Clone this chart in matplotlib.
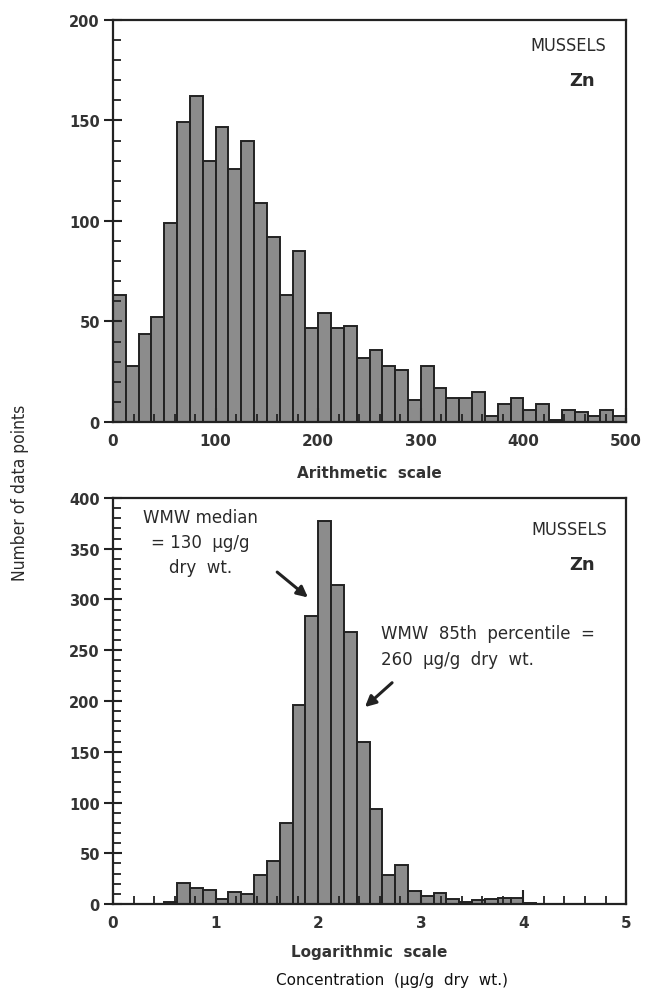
import numpy as np
import matplotlib.pyplot as plt
from matplotlib.ticker import MultipleLocator

# top panel: arithmetic scale, 12.5 ug/g bins from 0 to 500
arith_width = 12.5
arith_counts = [63, 28, 44, 52, 99, 149, 162, 130, 147, 126,
                140, 109, 92, 63, 85, 47, 54, 47, 48, 32,
                36, 28, 26, 11, 28, 17, 12, 12, 15, 3,
                9, 12, 6, 9, 1, 6, 5, 3, 6, 3]

# bottom panel: log10 scale, 0.125 bins from 0 to 5
log_width = 0.125
log_counts = [0, 0, 0, 0, 2, 21, 16, 14, 5, 12,
              10, 29, 42, 80, 196, 284, 377, 314, 268, 160,
              94, 29, 38, 13, 8, 11, 5, 2, 4, 5,
              6, 6, 1, 0, 0, 0, 0, 0, 0, 0]

species = "MUSSELS"
metal = "Zn"
median_text = "WMW median\n= 130  µg/g\ndry  wt."
p85_text = "WMW  85th  percentile  =\n260  µg/g  dry  wt."

plt.rcParams['font.family'] = ['DejaVu Sans']
bar_face = '#8c8c8c'
ink = '#222222'
txt = '#2a2a2a'

fig = plt.figure(figsize=(6.48, 10.04), dpi=100)
ax1 = fig.add_axes([0.1744, 0.5787, 0.7917, 0.4004])
ax2 = fig.add_axes([0.1744, 0.0986, 0.7917, 0.4044])


def style_axes(ax):
    for s in ax.spines.values():
        s.set_linewidth(1.6)
        s.set_color(ink)
    ax.tick_params(axis='y', which='major', direction='inout', length=13,
                   width=1.5, colors=ink, labelsize=10.5, pad=3)
    ax.tick_params(axis='y', which='minor', direction='in', length=6,
                   width=1.3, colors=ink)
    ax.tick_params(axis='x', which='major', direction='in', length=10,
                   width=1.5, colors=ink, labelsize=11, pad=8)
    ax.tick_params(axis='x', which='minor', direction='in', length=6,
                   width=1.3, colors=ink)
    for lab in ax.get_xticklabels() + ax.get_yticklabels():
        lab.set_fontweight('bold')
        lab.set_color('#333333')


# --- top histogram
edges1 = np.arange(len(arith_counts)) * arith_width
ax1.bar(edges1, arith_counts, width=arith_width, align='edge',
        color=bar_face, edgecolor=ink, linewidth=1.4)
ax1.set_xlim(0, 500)
ax1.set_ylim(0, 200)
ax1.xaxis.set_major_locator(MultipleLocator(100))
ax1.xaxis.set_minor_locator(MultipleLocator(20))
ax1.yaxis.set_major_locator(MultipleLocator(50))
ax1.yaxis.set_minor_locator(MultipleLocator(10))
style_axes(ax1)
ax1.set_xlabel("Arithmetic  scale", fontsize=11, color='#333333',
               fontweight='bold', labelpad=12)
ax1.text(0.962, 0.937, species, transform=ax1.transAxes, ha='right',
         va='center', fontsize=13, fontstretch='condensed', color=txt)
ax1.text(0.94, 0.85, metal, transform=ax1.transAxes, ha='right',
         va='center', fontsize=13, fontweight='bold', color=txt)

# --- bottom histogram
edges2 = np.arange(len(log_counts)) * log_width
ax2.bar(edges2, log_counts, width=log_width, align='edge',
        color=bar_face, edgecolor=ink, linewidth=1.4)
ax2.set_xlim(0, 5)
ax2.set_ylim(0, 400)
ax2.xaxis.set_major_locator(MultipleLocator(1))
ax2.xaxis.set_minor_locator(MultipleLocator(0.2))
ax2.yaxis.set_major_locator(MultipleLocator(50))
ax2.yaxis.set_minor_locator(MultipleLocator(10))
style_axes(ax2)
ax2.set_xlabel("Logarithmic  scale", fontsize=11, color='#333333',
               fontweight='bold', labelpad=10)
ax2.text(0.964, 0.923, species, transform=ax2.transAxes, ha='right',
         va='center', fontsize=13, fontstretch='condensed', color=txt)
ax2.text(0.94, 0.837, metal, transform=ax2.transAxes, ha='right',
         va='center', fontsize=13, fontweight='bold', color=txt)

ax2.text(0.85, 390, median_text, ha='center', va='top', fontsize=12,
         color=txt, linespacing=1.5)
ax2.annotate("", xy=(1.90, 302), xytext=(1.60, 327),
             arrowprops=dict(arrowstyle='-|>', color=ink, lw=2.2,
                             mutation_scale=16, shrinkA=0, shrinkB=0))
ax2.text(2.61, 276, p85_text, ha='left', va='top', fontsize=12,
         color=txt, linespacing=1.55)
ax2.annotate("", xy=(2.455, 194), xytext=(2.72, 218),
             arrowprops=dict(arrowstyle='-|>', color=ink, lw=2.2,
                             mutation_scale=16, shrinkA=0, shrinkB=0))

fig.text(0.031, 1 - 493 / 1004, "Number of data points", rotation=90,
         ha='center', va='center', fontsize=12.5, fontstretch='condensed',
         color=txt)
fig.text(392 / 648, 1 - 981 / 1004, "Concentration  (µg/g  dry  wt.)",
         ha='center', va='center', fontsize=11, color='#111111')

fig.savefig('out.png', dpi=100)
